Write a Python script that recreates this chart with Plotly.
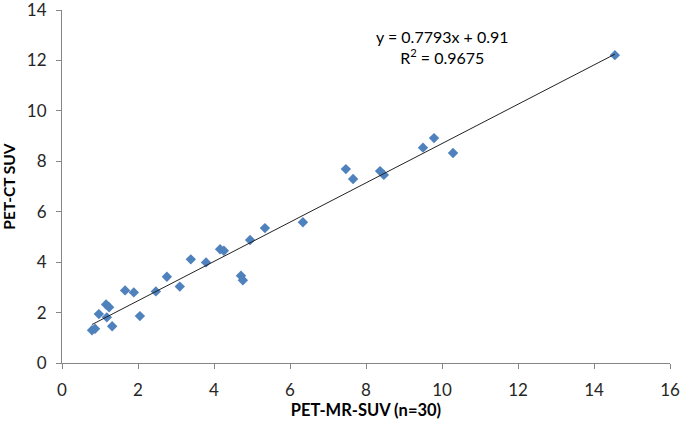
import plotly.graph_objects as go

pet_mr = [0.79, 0.87, 0.97, 1.16, 1.24, 1.18, 1.32, 1.66, 1.89, 2.05,
          2.47, 2.76, 3.10, 3.39, 3.79, 4.16, 4.26, 4.71, 4.76, 4.95,
          5.34, 6.34, 7.47, 7.66, 8.37, 8.47, 9.50, 9.79, 10.29, 14.55]
pet_ct = [1.30, 1.36, 1.94, 2.32, 2.21, 1.81, 1.46, 2.88, 2.80, 1.86,
          2.84, 3.42, 3.03, 4.11, 3.99, 4.51, 4.45, 3.46, 3.28, 4.88,
          5.35, 5.58, 7.69, 7.30, 7.61, 7.46, 8.54, 8.92, 8.33, 12.21]
slope = 0.7793
intercept = 0.91
x_ticks = [0, 2, 4, 6, 8, 10, 12, 14, 16]
y_ticks = [0, 2, 4, 6, 8, 10, 12, 14]

fit_x = [min(pet_mr), max(pet_mr)]
fit_y = [slope * v + intercept for v in fit_x]

fig = go.Figure()
fig.add_trace(go.Scatter(x=pet_mr, y=pet_ct, mode="markers",
                         marker=dict(symbol="diamond", size=8, color="#4F81BD"),
                         showlegend=False, cliponaxis=False))
fig.add_trace(go.Scatter(x=fit_x, y=fit_y, mode="lines",
                         line=dict(color="#222222", width=1), showlegend=False))

font_family = "Lato, Open Sans, sans-serif"
fig.add_annotation(x=10.0, y=12.54, xref="x", yref="y",
                   text="y = 0.7793x + 0.91<br>R<sup>2</sup> = 0.9675",
                   showarrow=False, align="center",
                   font=dict(family=font_family, size=16, color="#000000"))

axis_common = dict(showgrid=False, zeroline=False, showline=True,
                   linecolor="#868686", linewidth=1, ticks="outside",
                   ticklen=5, tickcolor="#868686", automargin=False,
                   ticklabeloverflow="allow",
                   tickfont=dict(family=font_family, size=17, color="#262626"))
fig.update_xaxes(range=[0, 16], tickvals=x_ticks, ticklabelstandoff=7,
                 title=dict(text="<b>PET-MR-SUV (n=30)</b>", standoff=4,
                            font=dict(family=font_family, size=16.5, color="#000000")),
                 **axis_common)
fig.update_yaxes(range=[0, 14], tickvals=y_ticks, ticklabelstandoff=6,
                 title=dict(text="<b>PET-CT SUV</b>", standoff=9,
                            font=dict(family=font_family, size=15.5, color="#000000")),
                 **axis_common)
fig.update_layout(width=685, height=424, plot_bgcolor="white", paper_bgcolor="white",
                  margin=dict(l=62, r=15, t=10, b=61))
fig.write_html("out.html", config={"displayModeBar": False},
               post_script="document.body.style.margin='0';")
